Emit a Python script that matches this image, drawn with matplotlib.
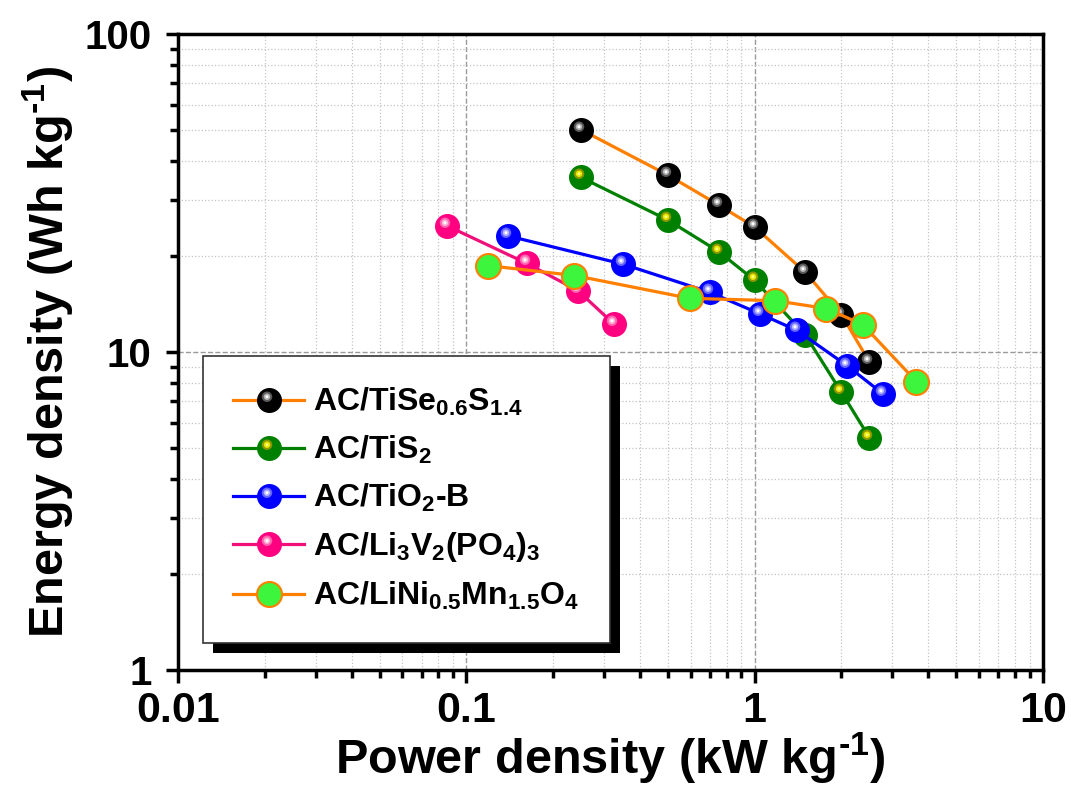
import numpy as np
import matplotlib
matplotlib.use('Agg')
import matplotlib.pyplot as plt
from matplotlib.path import Path
from matplotlib.patches import Rectangle
from matplotlib.legend_handler import HandlerTuple
from matplotlib.ticker import FixedLocator, FixedFormatter, NullFormatter, LogLocator

plt.rcParams['font.family'] = ['Liberation Sans', 'DejaVu Sans']
plt.rcParams['font.weight'] = 'bold'
plt.rcParams['axes.labelweight'] = 'bold'
plt.rcParams['mathtext.fontset'] = 'custom'
plt.rcParams['mathtext.bf'] = 'Liberation Sans:bold'
plt.rcParams['mathtext.rm'] = 'Liberation Sans:bold'
plt.rcParams['mathtext.default'] = 'bf'

# data (kW/kg, Wh/kg)
x_tise = [0.25, 0.5, 0.75, 1.0, 1.5, 2.0, 2.5]
y_tise = [50, 36, 29, 24.7, 17.8, 13.1, 9.3]
x_tis2 = [0.25, 0.5, 0.75, 1.0, 1.5, 2.0, 2.5]
y_tis2 = [35.4, 26, 20.7, 16.8, 11.3, 7.47, 5.38]
x_tio2 = [0.139, 0.349, 0.70, 1.04, 1.40, 2.09, 2.79]
y_tio2 = [23.2, 18.9, 15.4, 13.2, 11.7, 9.06, 7.38]
x_lvp = [0.086, 0.162, 0.2435, 0.325]
y_lvp = [24.9, 19.0, 15.6, 12.25]
x_lnmo = [0.1186, 0.237, 0.595, 1.18, 1.77, 2.37, 3.64]
y_lnmo = [18.7, 17.4, 14.75, 14.5, 13.7, 12.2, 8.07]

labels = [r'AC/TiSe$_{0.6}$S$_{1.4}$', r'AC/TiS$_2$', r'AC/TiO$_2$-B',
          r'AC/Li$_3$V$_2$(PO$_4$)$_3$', r'AC/LiNi$_{0.5}$Mn$_{1.5}$O$_4$']
xticks = [0.01, 0.1, 1, 10]
xticklabels = ['0.01', '0.1', '1', '10']
yticks = [1, 10, 100]
yticklabels = ['1', '10', '100']

MS = 18

def glint(r, cx=-0.1, cy=0.15):
    p = Path.circle((cx, cy), r)
    rescale = np.max(np.abs(p.vertices))
    return p, 2 * rescale * MS

fig = plt.figure(figsize=(10.71, 7.92), dpi=100)
ax = fig.add_axes([178/1071, 1-670/792, 865/1071, 636/792])

series = [
    (x_tise, y_tise, '#FF7F00', 'black', None, ['#5a5a5a', '#b4b4b4', 'white']),
    (x_tis2, y_tis2, '#008000', '#008000', None, ['#8c9600', '#e6e600', '#ffff80']),
    (x_tio2, y_tio2, '#0000FF', '#0000FF', None, ['#6464ff', '#b4b4ff', 'white']),
    (x_lvp, y_lvp, '#F0107A', '#FF0080', None, ['#ff64b0', '#ffb4d8', 'white']),
    (x_lnmo, y_lnmo, '#FF7F00', '#3CF53C', '#FF7F00', []),
]
radii = [0.21, 0.13, 0.06]

handles = []
for xs, ys, lc, fc, ec, hls in series:
    main, = ax.plot(xs, ys, '-', color=lc, lw=2.3, marker='o', ms=MS,
                    mfc=fc, mec=ec if ec else fc, mew=1.5 if ec else 0, zorder=3)
    parts = [main]
    for r, c in zip(radii, hls):
        p, ms = glint(r)
        h, = ax.plot(xs, ys, ls='none', marker=p, ms=ms, mfc=c, mew=0, zorder=3)
        parts.append(h)
    handles.append(tuple(parts))

ax.set_xscale('log')
ax.set_yscale('log')
ax.set_xlim(0.01, 10)
ax.set_ylim(1, 100)

ax.xaxis.set_major_locator(FixedLocator(xticks))
ax.xaxis.set_major_formatter(FixedFormatter(xticklabels))
ax.yaxis.set_major_locator(FixedLocator(yticks))
ax.yaxis.set_major_formatter(FixedFormatter(yticklabels))
ax.xaxis.set_minor_locator(LogLocator(base=10, subs=np.arange(2, 10)))
ax.yaxis.set_minor_locator(LogLocator(base=10, subs=np.arange(2, 10)))
ax.xaxis.set_minor_formatter(NullFormatter())
ax.yaxis.set_minor_formatter(NullFormatter())

ax.grid(which='major', ls='--', color='#9a9a9a', lw=1.0, zorder=0)
ax.grid(which='minor', ls=':', color='#c4c4c4', lw=0.9, zorder=0)
ax.set_axisbelow(True)

for s in ax.spines.values():
    s.set_linewidth(2.5)
ax.tick_params(which='both', direction='out', top=False, right=False, width=2.5)
ax.tick_params(which='major', length=9)
ax.tick_params(which='minor', length=5.5)
ax.tick_params(axis='x', labelsize=31, pad=6)
ax.tick_params(axis='y', labelsize=29, pad=10)

ax.set_xlabel('Power density (kW kg$^{\u2010 1}$)', fontsize=35, fontweight='bold', labelpad=0)
ax.set_ylabel('Energy density (Wh kg$^{\u2010 1}$)', fontsize=35, fontweight='bold', labelpad=6)

leg = ax.legend(handles, labels, handler_map={tuple: HandlerTuple(ndivide=1)},
                loc='upper left', bbox_to_anchor=(0.029, 0.494), borderaxespad=0,
                fontsize=23, frameon=True, fancybox=False, framealpha=1,
                edgecolor='#333333', handlelength=2.2, handletextpad=0.3,
                labelspacing=0.5, borderpad=0.95)
leg.get_frame().set_linewidth(1.2)
leg.set_zorder(6)

fig.canvas.draw()
bb = leg.get_window_extent().transformed(ax.transAxes.inverted())
dx = 10 / (865)
dy = 10 / (636)
shadow = Rectangle((bb.x0 + dx, bb.y0 - dy), bb.width, bb.height, transform=ax.transAxes,
                   facecolor='black', edgecolor='none', zorder=5.5, clip_on=False)
ax.add_patch(shadow)

fig.savefig('out.png', dpi=100)
